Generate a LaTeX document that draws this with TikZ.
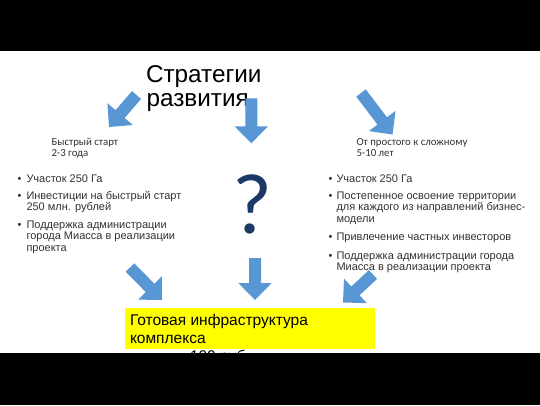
\documentclass[tikz,border=0pt]{standalone}
\usepackage{fontspec}
\setmainfont{Liberation Sans}
\newfontfamily\calfont{Carlito}
\usetikzlibrary{calc}
\definecolor{arrowblue}{RGB}{88,150,212}
\definecolor{qnavy}{RGB}{28,56,100}
\definecolor{boxyellow}{RGB}{255,255,0}
\definecolor{textgray}{RGB}{50,50,50}
\newcommand\blkarrow[3]{%
  \coordinate (#1t) at #2;
  \coordinate (#1h) at #3;
  \coordinate (#1b) at ($(#1h)!17pt!(#1t)$);
  \fill[arrowblue] ($(#1t)!6pt!90:(#1h)$) -- ($(#1b)!6pt!90:(#1h)$)
    -- ($(#1b)!16.7pt!90:(#1h)$) -- (#1h) -- ($(#1b)!16.7pt!-90:(#1h)$)
    -- ($(#1b)!6pt!-90:(#1h)$) -- ($(#1t)!6pt!-90:(#1h)$) -- cycle;
}
\tikzset{
  txt/.style={anchor=base west, inner sep=0pt, outer sep=0pt},
  bul/.style={txt, text=textgray, font=\fontsize{11}{11}\selectfont},
  sub/.style={txt, text=textgray, font=\calfont\fontsize{10.8}{11}\selectfont},
  ttl/.style={txt, font=\fontsize{24.3}{24}\selectfont},
  ybox/.style={txt, font=\fontsize{15.5}{18}\selectfont},
}
\begin{document}
\begin{tikzpicture}[x=1pt,y=-1pt]
\useasboundingbox (0,0) rectangle (540,405);
\fill[white] (0,0) rectangle (540,405);

% title
\node[ttl] (t1) at (146,82.5) {Стратегии};
\node[ttl] (t2) at (146.5,106.7) {развития};

% arrows top
\blkarrow{a1}{(136.5,95)}{(109,127)}
\blkarrow{a2}{(251.3,98.3)}{(251.3,143.3)}
\blkarrow{a3}{(361,93)}{(392.5,134.5)}

% subtitles
\node[sub] (s1) at (51.5,145.8) {Быстрый старт};
\node[sub] (s2) at (51.5,156.8) {2-3 года};
\node[sub] (s3) at (356.5,145.8) {От простого к сложному};
\node[sub] (s4) at (356.5,156.8) {5-10 лет};

% left bullets
\node[bul] (lb1) at (17.5,182.5) {•};
\node[bul] (l1) at (26.5,182.5) {Участок 250 Га};
\node[bul] (lb2) at (17.5,199) {•};
\node[bul] (l2a) at (26.5,199) {Инвестиции на быстрый старт};
\node[bul] (l2b) at (26.5,210.3) {250 млн. рублей};
\node[bul] (lb3) at (17.5,228.5) {•};
\node[bul] (l3a) at (26.5,228.5) {Поддержка администрации};
\node[bul] (l3b) at (26.5,239.8) {города Миасса в реализации};
\node[bul] (l3c) at (26.5,251.1) {проекта};

% question mark
\node[anchor=base, inner sep=0pt, text=qnavy, font=\calfont\fontsize{86}{86}\selectfont] (q) at (252.5,233) {?};

% right bullets
\node[bul] (rb1) at (328.5,182.5) {•};
\node[bul] (r1) at (336.5,182.5) {Участок 250 Га};
\node[bul] (rb2) at (328.5,199.5) {•};
\node[bul] (r2a) at (336.5,199.5) {Постепенное освоение территории};
\node[bul] (r2b) at (336.5,210.8) {для каждого из направлений бизнес-};
\node[bul] (r2c) at (336.5,222.1) {модели};
\node[bul] (rb3) at (328.5,240.6) {•};
\node[bul] (r3) at (336.5,240.6) {Привлечение частных инвесторов};
\node[bul] (rb4) at (328.5,259) {•};
\node[bul] (r4a) at (336.5,259) {Поддержка администрации города};
\node[bul] (r4b) at (336.5,270.3) {Миасса в реализации проекта};

% arrows bottom
\blkarrow{a4}{(130,267.5)}{(162,300)}
\blkarrow{a5}{(255,258)}{(255,300)}
\blkarrow{a6}{(373,274.5)}{(343,302.5)}

% yellow box
\node[fill=boxyellow, inner sep=0pt, minimum width=250pt, minimum height=41pt, anchor=north west] (box) at (125,308) {};
\node[ybox] (y1) at (130,325) {Готовая инфраструктура};
\node[ybox] (y2) at (130,343) {комплекса};
\node[ybox] (y3) at (190,361.5) {100 руб.};

% black bands
\fill[black] (0,0) rectangle (540,51);
\fill[black] (0,353) rectangle (540,405);
\end{tikzpicture}
\end{document}
